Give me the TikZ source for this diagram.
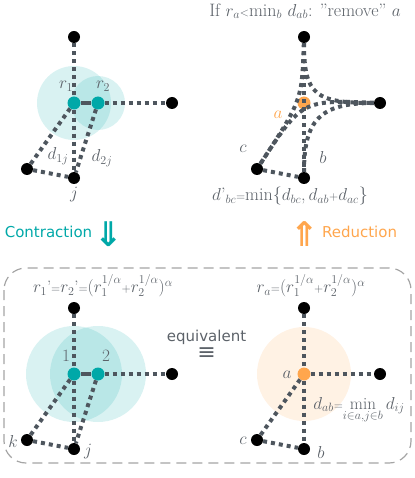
\documentclass[tikz,border=0pt]{standalone}
\usepackage{fontspec}
\newfontfamily\dejavu{DejaVu Sans}
\usetikzlibrary{arrows.meta}
\definecolor{tealc}{RGB}{0,168,168}
\definecolor{orangec}{RGB}{255,166,77}
\definecolor{edgec}{RGB}{78,86,94}
\definecolor{txtc}{RGB}{92,98,105}
\definecolor{framec}{RGB}{165,165,165}
\newcommand{\smop}[1]{{\fontsize{12}{12}\selectfont #1}}
\begin{document}
\begin{tikzpicture}[x=1pt,y=-1pt,
  dot/.style={circle,fill=black,inner sep=0pt,minimum size=12pt},
  tdot/.style={circle,fill=tealc,inner sep=0pt,minimum size=13pt},
  odot/.style={circle,fill=orangec,inner sep=0pt,minimum size=13pt},
  link/.style={draw=edgec,line width=4pt,dash pattern=on 4pt off 4pt},
  solidlink/.style={draw=edgec,line width=4pt},
  lbl/.style={text=txtc,font=\fontsize{18}{20}\selectfont,inner sep=0pt},
  formula/.style={text=txtc,font=\fontsize{16.5}{18}\selectfont,inner sep=0pt},
  sans/.style={font=\dejavu\fontsize{15}{18}\selectfont,inner sep=0pt},
  halo/.style={fill=tealc,fill opacity=0.15},
  ohalo/.style={fill=orangec,fill opacity=0.15},
  bigarrow/.style={font=\dejavu\bfseries\fontsize{34}{36}\selectfont,inner sep=0pt},
]
\useasboundingbox (0,0) rectangle (414,478);

% ---------- top left: contraction ----------
\fill[halo] (74,103) circle (37pt);
\fill[halo] (98,103) circle (27pt);
\node[dot] (ta) at (74,37) {};
\node[tdot] (t1) at (74,103) {};
\node[tdot] (t2) at (98,103) {};
\node[dot] (tr) at (172,103) {};
\node[dot] (tk) at (27,169) {};
\node[dot] (tj) at (74,178) {};
\draw[link] (ta) -- (t1);
\draw[solidlink] (t1) -- (t2);
\draw[link] (t2) -- (tr);
\draw[link] (t1) -- (tk);
\draw[link] (t1) -- (tj);
\draw[link] (t2) -- (tj);
\draw[link] (tk) -- (tj);
\node[lbl] at (66,86) {$r_1$};
\node[lbl] at (103,86) {$r_2$};
\node[lbl] at (58,156) {$d_{1j}$};
\node[lbl] at (102,158) {$d_{2j}$};
\node[lbl] at (74,195) {$j$};

% ---------- top right: reduction ----------
\node[odot] (ua) at (304,103) {};
\node[dot] (ut) at (304,37) {};
\node[dot] (ur) at (380,103) {};
\node[dot] (uc) at (257,169) {};
\node[dot] (ub) at (304,178) {};
\draw[link] (ut) -- (ub);
\draw[link] (ut) .. controls (302,100) .. (uc);
\draw[link] (ut) .. controls (304,95) and (315,103) .. (ur);
\draw[link] (ur) .. controls (302,100) .. (uc);
\draw[link] (ur) .. controls (320,103) and (304,120) .. (ub);
\draw[link] (uc) -- (ub);
\node[lbl,text=orangec] at (278,115) {$a$};
\node[lbl] at (243,149) {$c$};
\node[lbl] at (323,158) {$b$};
\node[lbl] (toptext) at (305,11) {If $r_a$\smop{<}min$_b$ $d_{ab}$: "remove" $a$};
\node[lbl] (dbc) at (290,196) {$d$'$_{bc}$\smop{=}min\{$d_{bc}$,\,$d_{ab}$\smop{+}$d_{ac}$\}};

% ---------- arrows between rows ----------
\node[sans,text=tealc] (contr) at (48.5,232) {Contraction};
\node[bigarrow,text=tealc] (darrow) at (108.5,234) {⇓};
\node[bigarrow,text=orangec] (uarrow) at (305,234) {⇑};
\node[sans,text=orangec] (redu) at (359.5,232) {Reduction};

% ---------- frame ----------
\draw[framec,line width=1.2pt,dash pattern=on 10pt off 6pt,rounded corners=22pt] (4,268) rectangle (411,463);

% ---------- bottom left ----------
\fill[halo] (74,374) circle (48pt);
\fill[halo] (98,374) circle (48pt);
\node[dot] (ba) at (74,308) {};
\node[tdot] (b1) at (74,374) {};
\node[tdot] (b2) at (98,374) {};
\node[dot] (br) at (172,374) {};
\node[dot] (bk) at (27,440) {};
\node[dot] (bj) at (74,449) {};
\draw[link] (ba) -- (b1);
\draw[solidlink] (b1) -- (b2);
\draw[link] (b2) -- (br);
\draw[link] (b1) -- (bk);
\draw[link] (b1) -- (bj);
\draw[link] (b2) -- (bj);
\draw[link] (bk) -- (bj);
\node[lbl] at (66,356) {$1$};
\node[lbl] at (106,356) {$2$};
\node[lbl] at (13,441) {$k$};
\node[lbl] at (88,452) {$j$};
\node[formula] at (103,286) {$r_1$'\smop{=}$r_2$'\smop{=}$(r_1^{1/\alpha}$\smop{+}$r_2^{1/\alpha})^\alpha$};

% ---------- equivalent ----------
\node[sans,text=txtc] (equiv) at (206.5,337) {equivalent};
\node[text=txtc,font=\dejavu\fontsize{22}{24}\selectfont,inner sep=0pt] (eqsym) at (206.5,354) {≡};

% ---------- bottom right ----------
\fill[ohalo] (304,374) circle (47pt);
\node[dot] (ca0) at (304,308) {};
\node[odot] (ca) at (304,374) {};
\node[dot] (cr) at (380,374) {};
\node[dot] (cc) at (257,440) {};
\node[dot] (cb) at (304,449) {};
\draw[link] (ca0) -- (ca);
\draw[link] (ca) -- (cr);
\draw[link] (ca) -- (cc);
\draw[link] (ca) -- (cb);
\draw[link] (cc) -- (cb);
\node[lbl] at (287,375) {$a$};
\node[lbl] at (243,441) {$c$};
\node[lbl] at (321,452) {$b$};
\node[formula] at (311,286) {$r_a$\smop{=}$(r_1^{1/\alpha}$\smop{+}$r_2^{1/\alpha})^\alpha$};
\node[text=txtc,font=\fontsize{17}{19}\selectfont,inner sep=0pt] at (359,410) {$d_{ab}$\smop{=}$\min\limits_{i\in a,j\in b} d_{ij}$};
\end{tikzpicture}
\end{document}
